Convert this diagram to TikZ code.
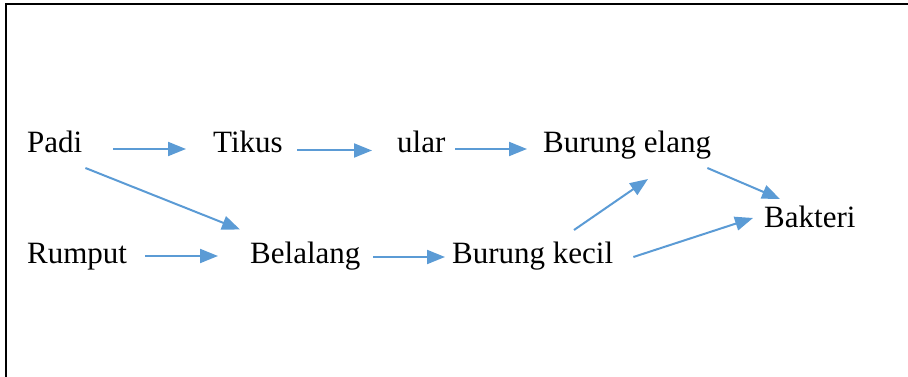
\documentclass[tikz,border=0pt]{standalone}
\usepackage{fontspec}
\setmainfont{Liberation Serif}
\usetikzlibrary{arrows.meta}
\definecolor{arrowblue}{RGB}{91,155,213}

\begin{document}
\begin{tikzpicture}[
        x=1pt, y=1pt,
        species/.style={inner sep=0pt, anchor=base west, text height=21pt, text depth=6.5pt, font=\fontsize{31}{37}\selectfont},
        link/.style={-{Triangle[length=18pt, width=14pt]}, draw=arrowblue, line width=2pt},
        frame/.style={draw=black, line width=2pt}
    ]
        % Rahmen
        \useasboundingbox (0,0) rectangle (908,377);
        \clip (0,0) rectangle (908,377);
        \draw[frame] (5.5,-10) rectangle (930,372.5);

        % obere Reihe
        \node[species] at (27,224.5) (padi) {Padi};
        \node[species] at (213,224.5) (tikus) {Tikus};
        \node[species] at (397,224.5) (ular) {ular};
        \node[species] at (543,224.5) (elang) {Burung elang};

        % untere Reihe
        \node[species] at (27,113) (rumput) {Rumput};
        \node[species] at (250,113) (belalang) {Belalang};
        \node[species] at (452,113) (kecil) {Burung kecil};
        \node[species] at (764,149) (bakteri) {Bakteri};

        % Pfeile
        \draw[link] ([shift={(30.9,3.5)}]padi.base east) -- ([shift={(-27,3.5)}]tikus.base west);
        \draw[link] ([shift={(14.4,2)}]tikus.base east) -- ([shift={(-25,2)}]ular.base west);
        \draw[link] ([shift={(9.8,3.5)}]ular.base east) -- ([shift={(-16,3.5)}]elang.base west);
        \draw[link] ([shift={(2.9,-15.5)}]padi.base east) -- ([shift={(-10,34.5)}]belalang.base west);
        \draw[link] ([shift={(18.1,8)}]rumput.base east) -- ([shift={(-32,8)}]belalang.base west);
        \draw[link] ([shift={(12.8,7)}]belalang.base east) -- ([shift={(-7,7)}]kecil.base west);
        \draw[link] ([shift={(122,34)}]kecil.base west) -- ([shift={(105,-26.5)}]elang.base west);
        \draw[link] ([shift={(-3.9,-15.5)}]elang.base east) -- ([shift={(16,29)}]bakteri.base west);
        \draw[link] ([shift={(20,7)}]kecil.base east) -- ([shift={(-11,10)}]bakteri.base west);
    \end{tikzpicture}
\end{document}
